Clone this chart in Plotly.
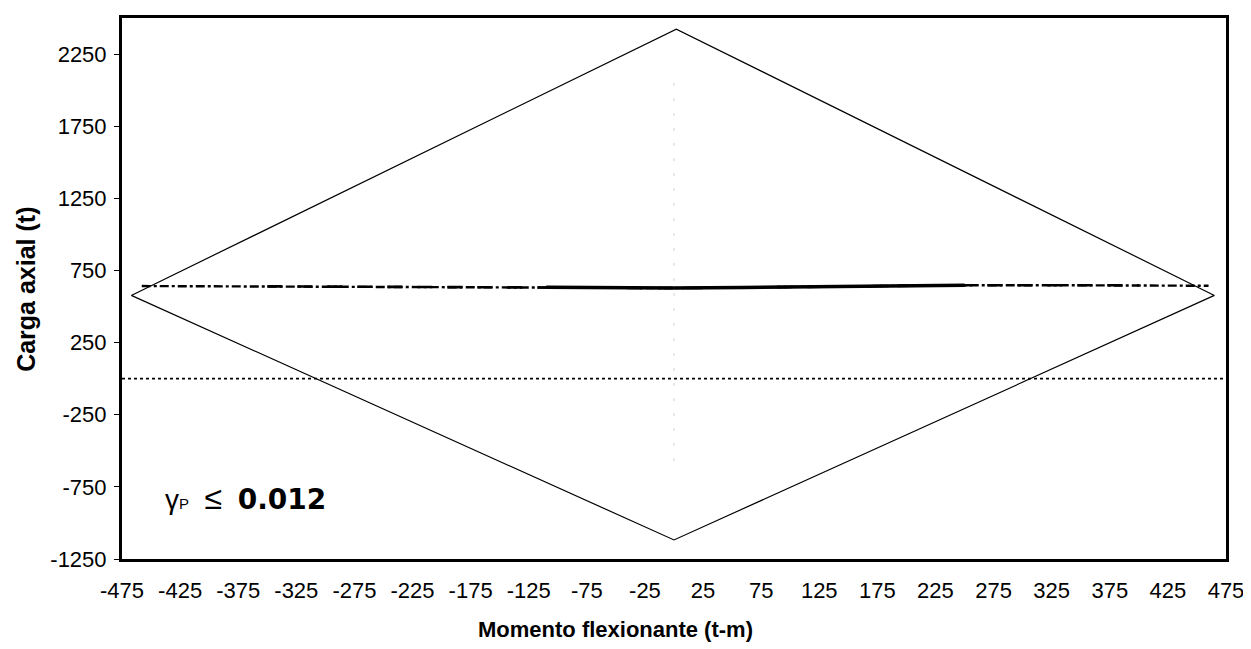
import plotly.graph_objects as go

# diagrama de interaccion (rombo)
m_rombo = [-467, 2, 465, 0, -467]
p_rombo = [577, 2423, 577, -1118, 577]

# carga axial de las simulaciones (linea punto-raya)
m_carga = [-458, -350, -250, -150, -60, 0, 60, 150, 250, 350, 460]
p_carga = [642, 640, 638, 634, 630, 628, 632, 640, 648, 647, 644]

# tramo medio, mas denso
m_denso = [-350, -200, -110, -40, 0, 60, 150, 250, 400]
p_denso = [640, 637, 633, 630, 628, 632, 640, 648, 647]
m_solido = [-110, -40, 0, 60, 150, 250]
p_solido = [633, 630, 628, 632, 640, 648]

# referencia P = 0 (punteada)
m_cero = [-475, 475]
p_cero = [0, 0]

# eje vertical tenue en M = 0
m_vert = [0, 0]
p_vert = [2050, -650]

x_ticks = list(range(-475, 476, 50))
y_ticks = list(range(-1250, 2251, 500))

fig = go.Figure()
fig.add_trace(go.Scatter(x=m_vert, y=p_vert, mode='lines',
                         line=dict(color='#e2e2e2', width=1.5, dash='3px,12px')))
fig.add_trace(go.Scatter(x=m_cero, y=p_cero, mode='lines',
                         line=dict(color='black', width=1.6, dash='dot')))
fig.add_trace(go.Scatter(x=m_carga, y=p_carga, mode='lines',
                         line=dict(color='black', width=2.4, dash='dashdot')))
fig.add_trace(go.Scatter(x=m_denso, y=p_denso, mode='lines',
                         line=dict(color='black', width=2.6, dash='longdash')))
fig.add_trace(go.Scatter(x=m_solido, y=p_solido, mode='lines',
                         line=dict(color='black', width=3.5)))
fig.add_trace(go.Scatter(x=m_rombo, y=p_rombo, mode='lines',
                         line=dict(color='black', width=1.2)))

fig.add_annotation(x=-440, y=-830, xref='x', yref='y', xanchor='left', yanchor='middle',
                   text="γ<span style='font-size:15px'>P</span>&nbsp; <span style='font-size:32px'>≤</span>&nbsp; "
                        "<span style='font-family:DejaVu Sans;font-weight:bold;font-size:28px'>0.012</span>",
                   showarrow=False, font=dict(family='Liberation Sans', size=28, color='black'))
fig.add_annotation(x=0.447, y=-0.1305, xref='paper', yref='paper', xanchor='center', yanchor='middle',
                   text='<b>Momento flexionante (t-m)</b>', showarrow=False,
                   font=dict(family='Liberation Sans', size=22, color='black'))
fig.add_annotation(x=-0.0876, y=0.498, xref='paper', yref='paper', xanchor='center', yanchor='middle',
                   text='<b>Carga axial (t)</b>', showarrow=False, textangle=-90,
                   font=dict(family='Liberation Sans', size=25, color='black'))

fig.update_xaxes(range=[-475, 475], tickvals=x_ticks, ticktext=[str(v) for v in x_ticks],
                 showgrid=False, zeroline=False, showline=True, linewidth=3, linecolor='black',
                 mirror=True, ticks='', ticklabelstandoff=10,
                 tickfont=dict(family='Liberation Sans', size=22, color='black'))
fig.update_yaxes(range=[-1250, 2500], tickvals=y_ticks, ticktext=[str(v) for v in y_ticks],
                 showgrid=False, zeroline=False, showline=True, linewidth=3, linecolor='black',
                 mirror=True, ticks='outside', ticklen=5, tickcolor='black', ticklabelstandoff=3,
                 tickfont=dict(family='Liberation Sans', size=22, color='black'))

# el body de la pagina tiene 8 px de margen
fig.update_layout(width=1243, height=641, showlegend=False,
                  margin=dict(l=114, r=22, t=7, b=90),
                  plot_bgcolor='white', paper_bgcolor='white')

fig.write_html("out.html")
